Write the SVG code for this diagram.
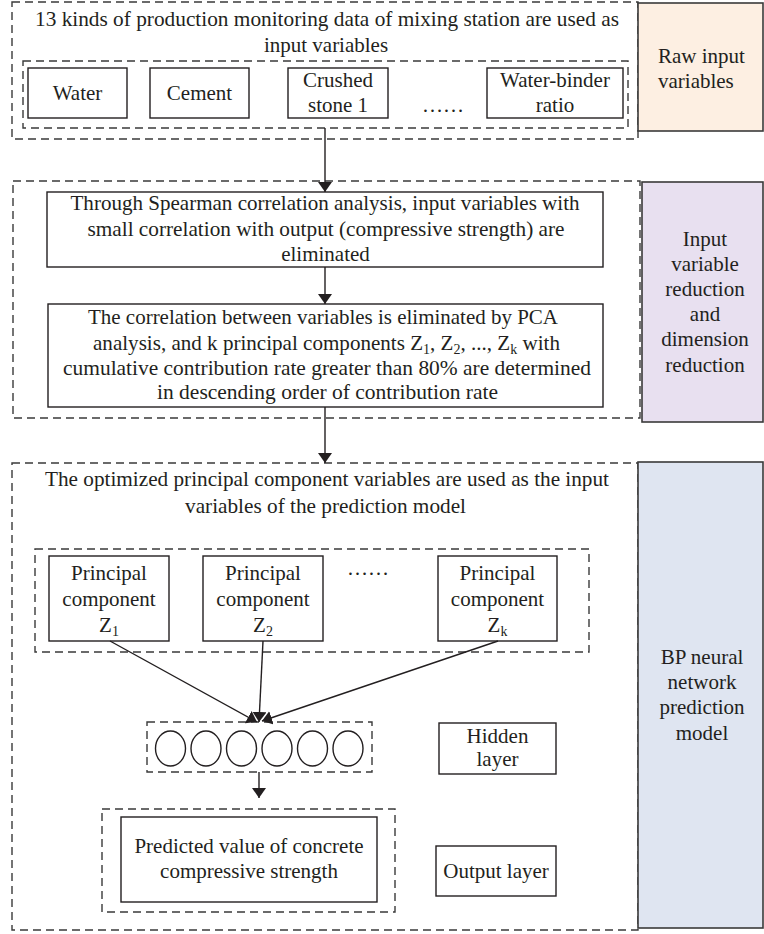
<svg xmlns="http://www.w3.org/2000/svg" width="764" height="934" viewBox="0 0 764 934">
<style>
text{font-family:"Liberation Serif","Times New Roman",serif;font-size:21px;fill:#231f20}
.c{text-anchor:middle}
.box{fill:#fff;stroke:#231f20;stroke-width:1.4}
.dash{fill:none;stroke:#3a3a3a;stroke-width:1.4;stroke-dasharray:8 5}
.lab{stroke:#3a3a3a;stroke-width:1.6}
.con{fill:none;stroke:#231f20;stroke-width:1.4}
.sub{font-size:14px}
</style>
<defs>
<marker id="ah" viewBox="0 0 10 14" refX="10" refY="7" markerWidth="10" markerHeight="14" markerUnits="userSpaceOnUse" orient="auto">
<path d="M0,0 L10,7 L0,14 z" fill="#231f20"/>
</marker>
</defs>
<rect width="764" height="934" fill="#fff"/>

<g id="sec1">
<rect class="dash" x="12" y="2" width="626" height="137"/>
<text class="c" x="327" y="26" textLength="584" lengthAdjust="spacingAndGlyphs">13 kinds of production monitoring data of mixing station are used as</text>
<text class="c" x="326" y="52">input variables</text>
<rect class="dash" x="23" y="61" width="605" height="67"/>
</g>
<g id="water"><rect class="box" x="28" y="68" width="99" height="50"/><text class="c" x="77.5" y="100">Water</text></g>
<g id="cement"><rect class="box" x="150" y="68" width="99" height="50"/><text class="c" x="199.5" y="100">Cement</text></g>
<g id="stone"><rect class="box" x="288" y="68" width="100" height="50"/><text class="c" x="338" y="87">Crushed</text><text class="c" x="338" y="112">stone 1</text></g>
<g id="dots1"><text class="c" x="443" y="112">……</text></g>
<g id="wb"><rect class="box" x="487" y="68" width="136" height="50"/><text class="c" x="555" y="87">Water-binder</text><text class="c" x="555" y="112">ratio</text></g>
<g id="raw"><rect class="lab" fill="#fdefe2" x="638" y="3" width="125" height="128"/><text x="658" y="63">Raw input</text><text x="658" y="88">variables</text></g>

<g id="sec2">
<rect class="dash" x="13" y="181" width="627" height="237"/>
</g>
<g id="spearman"><rect class="box" x="47" y="192" width="556" height="75"/>
<text class="c" x="325" y="210" textLength="509" lengthAdjust="spacingAndGlyphs">Through Spearman correlation analysis, input variables with</text>
<text class="c" x="326" y="236" textLength="477" lengthAdjust="spacingAndGlyphs">small correlation with output (compressive strength) are</text>
<text class="c" x="325.5" y="261">eliminated</text>
</g>
<g id="pca"><rect class="box" x="48" y="304" width="555" height="103"/>
<text class="c" x="323" y="324" textLength="470" lengthAdjust="spacingAndGlyphs">The correlation between variables is eliminated by PCA</text>
<text class="c" x="326.5" y="350" textLength="467" lengthAdjust="spacingAndGlyphs">analysis, and k principal components Z<tspan class="sub" dy="4">1</tspan><tspan dy="-4">, Z</tspan><tspan class="sub" dy="4">2</tspan><tspan dy="-4">, ..., Z</tspan><tspan class="sub" dy="4">k</tspan><tspan dy="-4"> with</tspan></text>
<text class="c" x="327" y="375" textLength="528" lengthAdjust="spacingAndGlyphs">cumulative contribution rate greater than 80% are determined</text>
<text class="c" x="327.5" y="399" textLength="341" lengthAdjust="spacingAndGlyphs">in descending order of contribution rate</text>
</g>
<g id="reduce"><rect class="lab" fill="#e8e0f0" x="642" y="182" width="121" height="240"/>
<text class="c" x="705" y="246">Input</text><text class="c" x="705" y="271">variable</text><text class="c" x="705" y="296">reduction</text><text class="c" x="705" y="321">and</text><text class="c" x="705" y="346">dimension</text><text class="c" x="705" y="372">reduction</text>
</g>

<g id="sec3">
<rect class="dash" x="12" y="463" width="626" height="467"/>
<text class="c" x="327" y="486" textLength="564" lengthAdjust="spacingAndGlyphs">The optimized principal component variables are used as the input</text>
<text class="c" x="325.5" y="513" textLength="281" lengthAdjust="spacingAndGlyphs">variables of the prediction model</text>
<rect class="dash" x="35" y="549" width="554" height="103"/>
</g>
<g id="z1"><rect class="box" x="49" y="556" width="120" height="85"/><text class="c" x="109" y="580">Principal</text><text class="c" x="109" y="606">component</text><text class="c" x="109" y="632">Z<tspan class="sub" dy="4">1</tspan></text></g>
<g id="z2"><rect class="box" x="203" y="556" width="120" height="85"/><text class="c" x="263" y="580">Principal</text><text class="c" x="263" y="606">component</text><text class="c" x="263" y="632">Z<tspan class="sub" dy="4">2</tspan></text></g>
<g id="dots2"><text class="c" x="368" y="575">……</text></g>
<g id="zk"><rect class="box" x="438" y="556" width="119" height="85"/><text class="c" x="497.5" y="580">Principal</text><text class="c" x="497.5" y="606">component</text><text class="c" x="497.5" y="632">Z<tspan class="sub" dy="4">k</tspan></text></g>

<g id="hidden">
<rect class="dash" x="147" y="722" width="225" height="50"/>
<g class="con">
<ellipse cx="170.5" cy="748.5" rx="15" ry="17.5"/>
<ellipse cx="206" cy="748.5" rx="15" ry="17.5"/>
<ellipse cx="241.5" cy="748.5" rx="15" ry="17.5"/>
<ellipse cx="277" cy="748.5" rx="15" ry="17.5"/>
<ellipse cx="312.5" cy="748.5" rx="15" ry="17.5"/>
<ellipse cx="348" cy="748.5" rx="15" ry="17.5"/>
</g>
</g>
<g id="hiddenlabel"><rect class="box" x="439" y="723" width="117" height="51"/><text class="c" x="497.5" y="743">Hidden</text><text class="c" x="497.5" y="766">layer</text></g>
<g id="output">
<rect class="dash" x="102" y="809" width="293" height="103"/>
<rect class="box" x="121" y="817" width="256" height="85"/>
<text class="c" x="249" y="853">Predicted value of concrete</text>
<text class="c" x="249" y="878">compressive strength</text>
</g>
<g id="outputlabel"><rect class="box" x="436" y="846" width="120" height="50"/><text class="c" x="496" y="878">Output layer</text></g>
<g id="bp"><rect class="lab" fill="#dfe5f1" x="638" y="462" width="125" height="466"/>
<text class="c" x="702" y="664">BP neural</text><text class="c" x="702" y="689">network</text><text class="c" x="702" y="714">prediction</text><text class="c" x="702" y="740">model</text>
</g>

<g id="connectors" class="con">
<line x1="325" y1="128" x2="325" y2="192" marker-end="url(#ah)"/>
<line x1="325" y1="267" x2="325" y2="304" marker-end="url(#ah)"/>
<line x1="325" y1="407" x2="325" y2="463" marker-end="url(#ah)"/>
<line x1="110" y1="641" x2="257" y2="722" marker-end="url(#ah)"/>
<line x1="263" y1="641" x2="259" y2="722" marker-end="url(#ah)"/>
<line x1="498" y1="641" x2="262" y2="721" marker-end="url(#ah)"/>
<line x1="259" y1="772" x2="259" y2="798" marker-end="url(#ah)"/>
</g>
</svg>
